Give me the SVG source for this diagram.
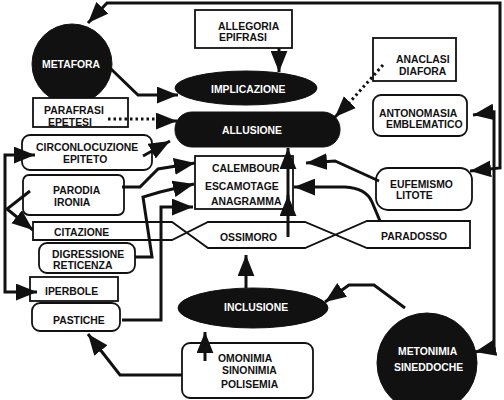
<svg xmlns="http://www.w3.org/2000/svg" width="504" height="400" viewBox="0 0 504 400">
<defs>
<style>
text{font-family:"Liberation Sans",Arial,sans-serif;font-weight:bold;font-size:10.4px;fill:#111}
.w{fill:#fff}
.box{fill:#fff;stroke:#111;stroke-width:1.8}
.blk{fill:#111;stroke:#111}
.c{fill:none;stroke:#111;stroke-width:3;stroke-linejoin:miter}
.d{fill:none;stroke:#111;stroke-width:3;stroke-dasharray:2.5 3}
</style>
<marker id="ah" viewBox="0 0 20 16" refX="20" refY="8" markerWidth="21" markerHeight="17" markerUnits="userSpaceOnUse" orient="auto-start-reverse">
<path d="M0,0 L20,8 L0,16 Z" fill="#111"/>
</marker>
</defs>
<rect width="504" height="400" fill="#fff"/>

<g id="metafora"><circle class="blk" cx="72" cy="64" r="40"/><text class="w" x="42" y="68">METAFORA</text></g>
<g id="allegoria"><rect class="box" x="195" y="10" width="97" height="38"/><text x="218" y="30">ALLEGORIA</text><text x="219" y="41">EPIFRASI</text></g>
<g id="implicazione"><ellipse class="blk" cx="246" cy="88" rx="71" ry="17"/><text class="w" x="211" y="93">IMPLICAZIONE</text></g>
<g id="parafrasi"><rect class="box" x="33" y="98" width="95" height="29"/><text x="44" y="114">PARAFRASI</text><text x="48" y="126">EPETESI</text></g>
<g id="allusione"><rect class="blk" x="175" y="112" width="165" height="35" rx="17"/><text class="w" x="222" y="134">ALLUSIONE</text></g>
<g id="anaclasi"><rect class="box" x="373" y="38" width="83" height="43"/><text x="396" y="63">ANACLASI</text><text x="399" y="75">DIAFORA</text></g>
<g id="antonomasia"><rect class="box" x="373" y="95" width="94" height="41" rx="8"/><text x="379" y="117">ANTONOMASIA</text><text x="386" y="128">EMBLEMATICO</text></g>
<g id="circonlocuzione"><rect class="box" x="22" y="135" width="130" height="35" rx="8"/><text x="36" y="151">CIRCONLOCUZIONE</text><text x="63" y="163">EPITETO</text></g>
<g id="parodia"><rect class="box" x="23" y="175" width="101" height="40" rx="6"/><text x="53" y="194">PARODIA</text><text x="54" y="206">IRONIA</text></g>
<g id="calembour"><rect class="box" x="195" y="156" width="98" height="53"/><text x="212" y="172">CALEMBOUR</text><text x="205" y="190">ESCAMOTAGE</text><text x="211" y="205">ANAGRAMMA</text></g>
<g id="eufemismo"><rect class="box" x="376" y="168" width="96" height="42" rx="12"/><text x="390" y="188">EUFEMISMO</text><text x="396" y="199">LITOTE</text></g>
<g id="citazione-ossimoro-paradosso"><path class="box" d="M33,222 H172 L208,248 H305 L367,221 H470 V248 H367 L305,222 H208 L172,240 H33 Z"/></g>
<g id="citazione"><text x="54" y="236">CITAZIONE</text></g>
<g id="ossimoro"><text x="220" y="241">OSSIMORO</text></g>
<g id="paradosso"><text x="381" y="240">PARADOSSO</text></g>
<g id="digressione"><rect class="box" x="39" y="243" width="96" height="30" rx="8"/><text x="52" y="258">DIGRESSIONE</text><text x="53" y="269">RETICENZA</text></g>
<g id="iperbole"><rect class="box" x="30" y="277" width="88" height="24"/><text x="45" y="295">IPERBOLE</text></g>
<g id="pastiche"><rect class="box" x="32" y="303" width="88" height="28" rx="8"/><text x="53" y="324">PASTICHE</text></g>
<g id="inclusione"><ellipse class="blk" cx="253" cy="308" rx="75" ry="20"/><text class="w" x="224" y="311">INCLUSIONE</text></g>
<g id="omonimia"><rect class="box" x="182" y="343" width="131" height="55" rx="8"/><text x="218" y="362">OMONIMIA</text><text x="222" y="374">SINONIMIA</text><text x="221" y="388">POLISEMIA</text></g>
<g id="metonimia"><circle class="blk" cx="427" cy="363" r="50"/><text class="w" x="398" y="355">METONIMIA</text><text class="w" x="394" y="371">SINEDDOCHE</text></g>

<g id="connectors">
<path class="c" d="M88,23 L107,3 H500 V168 L470,171" marker-start="url(#ah)" marker-end="url(#ah)"/>
<path class="c" d="M279,48 V72" marker-end="url(#ah)"/>
<path class="c" d="M110,68 L138,95 H178" marker-end="url(#ah)"/>
<path class="d" d="M108,119 H160"/>
<path class="c" d="M158,121 H177" marker-end="url(#ah)"/>
<path class="d" d="M383,65 L349,103"/>
<path class="c" d="M349,103 L335,117" marker-end="url(#ah)"/>
<path class="c" d="M143,156 L170,141" marker-end="url(#ah)"/>
<path class="c" d="M35,155 H5 V292 H37" marker-start="url(#ah)" marker-end="url(#ah)"/>
<path class="c" d="M30,191 L7,209 L33,230" marker-end="url(#ah)"/>
<path class="c" d="M122,187 H140 L158,169 L195,163" marker-end="url(#ah)"/>
<path class="c" d="M135,257 H152 L143,197 L160,192 L194,184" marker-end="url(#ah)"/>
<path class="c" d="M122,320 H161 V207 H193" marker-end="url(#ah)"/>
<path class="c" d="M288,237 V195" marker-end="url(#ah)"/>
<path class="c" d="M288,210 V148" marker-end="url(#ah)"/>
<path class="c" d="M379,181 L335,161 L306,163" marker-end="url(#ah)"/>
<path class="c" d="M380,221 L372,202 Q366,188 345,187 H294" marker-end="url(#ah)"/>
<path class="c" d="M473,115 L494,112 V348 L475,352" marker-start="url(#ah)" marker-end="url(#ah)"/>
<path class="c" d="M246,288 V255" marker-end="url(#ah)"/>
<path class="c" d="M405,308 L374,285 H349 L325,302" marker-end="url(#ah)"/>
<path class="c" d="M205,361 V332" marker-end="url(#ah)"/>
<path class="c" d="M182,375 H120 L88,334" marker-end="url(#ah)"/>
</g>
</svg>
